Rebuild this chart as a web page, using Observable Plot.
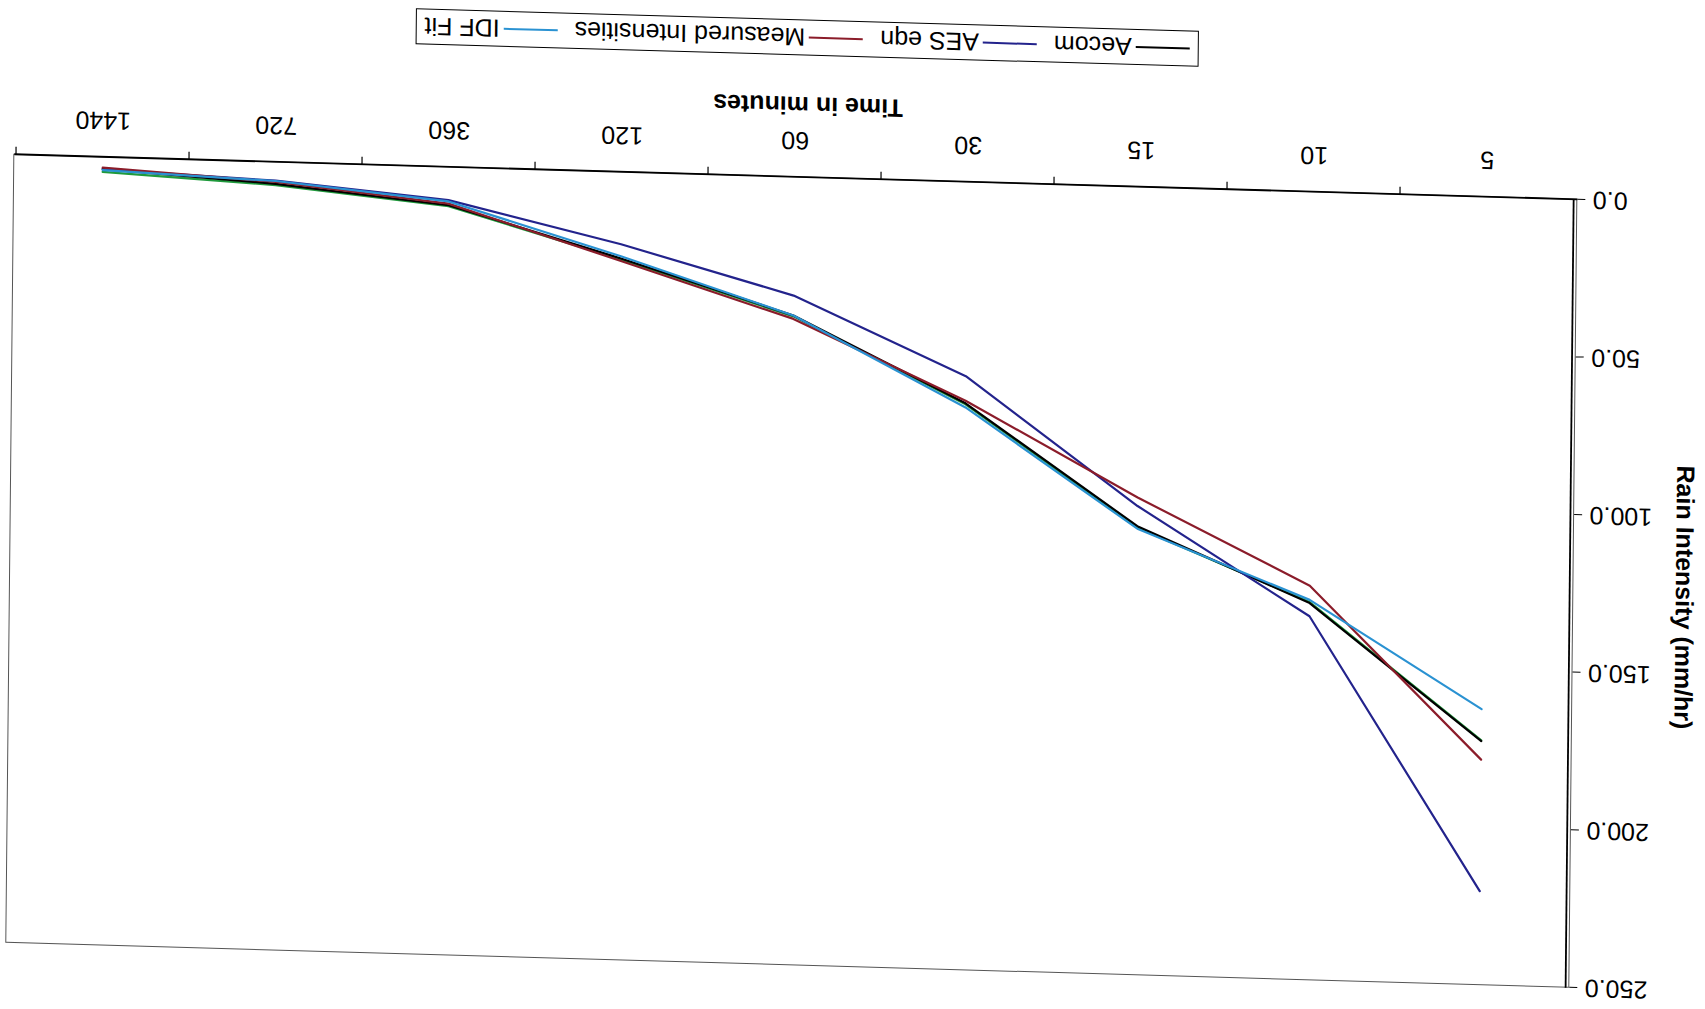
<!DOCTYPE html>
<html>
<head>
<meta charset="utf-8">
<script src="https://cdn.jsdelivr.net/npm/d3@7"></script>
<script src="https://cdn.jsdelivr.net/npm/@observablehq/plot@0.6"></script>
<style>
  html, body { margin: 0; padding: 0; background: #fff; overflow: hidden; }
  #page {
    position: absolute; left: 0; top: 0; width: 1705px; height: 1009px; background: #fff;
    font-family: Arial, "Liberation Sans", sans-serif;
    transform-origin: 852.5px 504.5px;
    transform: matrix(1, 0.0288, -0.0102, 1, 0, 0) rotate(180deg);
  }
  #chart { position: absolute; left: 0; top: 0; }
  #legend {
    position: absolute; left: 511px; top: 952px; width: 783px; height: 36px;
    box-sizing: border-box; border: 1.5px solid #000; background: #fff;
    display: flex; align-items: center; padding-left: 8px;
    font-size: 25px; color: #000; white-space: nowrap;
  }
  #legend .item { display: flex; align-items: center; margin-right: 17px; }
  #legend .swatch { width: 54px; height: 0; border-top: 2.5px solid #000; margin-right: 4px; }
</style>
</head>
<body>
<div id="page">
  <div id="chart"></div>
  <div id="legend"></div>
</div>
<script>
// ---- data ----
const minutes = ["5", "10", "15", "30", "60", "120", "360", "720", "1440"];
const aecom    = [172.7, 130.5, 107.7, 70.3, 44.0, 27.5, 12.2, 7.0, 3.8];
const aesEqn   = [220.3, 134.7, 101.3, 61.7, 37.7, 23.0, 10.6, 6.0, 4.0];
const measured = [178.6, 125.0, 98.6, 69.5, 45.1, 28.3, 11.7, 6.4, 3.4];
const idfFit   = [162.6, 129.5, 108.5, 71.6, 44.0, 26.8, 11.0, 6.1, 4.2];
const series5  = [172.5, 130.2, 108.2, 70.6, 44.3, 27.8, 12.5, 7.4, 4.8]; // green line, not in legend
const seriesNames  = ["Aecom", "AES eqn", "Measured Intensities", "IDF Fit"];
const seriesColors = ["#000000", "#23238c", "#8b1c2a", "#2a92d2"];
const yTicks = [0, 50, 100, 150, 200, 250];
const xTitle = "Time in minutes";
const yTitle = "Rain Intensity (mm/hr)";

const seriesValues = [aecom, aesEqn, measured, idfFit];
const rows = [];
seriesNames.forEach((name, i) => {
  minutes.forEach((m, j) => rows.push({series: name, minute: m, value: seriesValues[i][j]}));
});
const rows5 = minutes.map((m, j) => ({minute: m, value: series5[j]}));

const W = 1705, H = 930, mL = 131, mR = 11, mT = 42, mB = 100;
const step = (W - mL - mR) / minutes.length;
const font = 'Arial, "Liberation Sans", sans-serif';

const chart = Plot.plot({
  width: W, height: H,
  marginLeft: mL, marginRight: mR, marginTop: mT, marginBottom: mB,
  style: {fontFamily: font, fontSize: "25px", color: "#000", background: "#fff", overflow: "visible"},
  x: {type: "point", domain: minutes, padding: 0.5, label: null},
  y: {domain: [0, 250], label: null},
  color: {domain: seriesNames, range: seriesColors},
  marks: [
    Plot.frame({stroke: "#555", strokeWidth: 1}),
    Plot.axisY({ticks: yTicks, tickFormat: d3.format(".1f"), tickSize: 8, tickPadding: 8, label: null, fontSize: 25}),
    Plot.axisX({tickSize: 0, tickPadding: 27, label: null, fontSize: 25}),
    Plot.tickX(minutes, {x: d => d, dx: step / 2, insetTop: H - mT - mB, insetBottom: -8, stroke: "#000", strokeWidth: 1.2}),
    Plot.ruleY([0], {stroke: "#000", strokeWidth: 1.8}),
    Plot.ruleX([minutes[0]], {dx: -step / 2, stroke: "#000", strokeWidth: 1.8}),
    Plot.line(rows5, {x: "minute", y: "value", stroke: "#1f9a3c", strokeWidth: 2.2}),
    Plot.line(rows, {x: "minute", y: "value", z: "series", stroke: "series", strokeWidth: 2.2}),
    Plot.text([xTitle], {frameAnchor: "bottom", dy: 80, dx: -12, fontWeight: "bold", fontSize: 25}),
    Plot.text([yTitle], {frameAnchor: "left", textAnchor: "middle", dx: -111, dy: -1, rotate: -90, fontWeight: "bold", fontSize: 25})
  ]
});
document.getElementById("chart").appendChild(chart);

const legend = document.getElementById("legend");
seriesNames.forEach((name, i) => {
  const item = document.createElement("div");
  item.className = "item";
  const sw = document.createElement("span");
  sw.className = "swatch";
  sw.style.borderTopColor = seriesColors[i];
  const label = document.createElement("span");
  label.textContent = name;
  item.appendChild(sw);
  item.appendChild(label);
  legend.appendChild(item);
});
</script>
</body>
</html>
